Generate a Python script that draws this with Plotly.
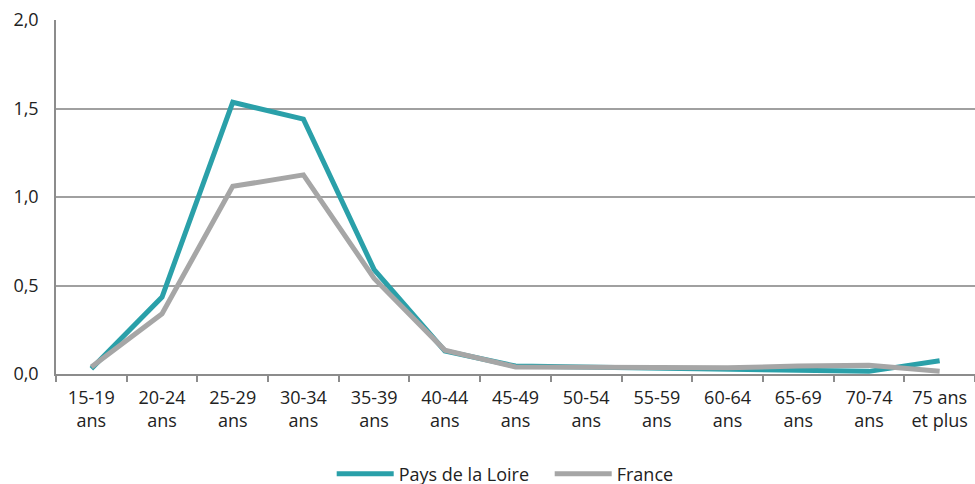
import plotly.graph_objects as go

categories = ["15-19<br>ans", "20-24<br>ans", "25-29<br>ans", "30-34<br>ans", "35-39<br>ans",
              "40-44<br>ans", "45-49<br>ans", "50-54<br>ans", "55-59<br>ans", "60-64<br>ans",
              "65-69<br>ans", "70-74<br>ans", "75 ans<br>et plus"]
pdl_values = [0.03, 0.435, 1.535, 1.44, 0.59, 0.13, 0.045, 0.04, 0.035, 0.03, 0.02, 0.015, 0.075]
france_values = [0.04, 0.34, 1.06, 1.125, 0.54, 0.135, 0.04, 0.04, 0.035, 0.035, 0.045, 0.05, 0.015]
y_ticks = [0, 0.5, 1.0, 1.5, 2.0]

fig = go.Figure()
fig.add_trace(go.Scatter(x=categories, y=pdl_values, mode="lines", name="Pays de la Loire",
                         line=dict(color="#2AA0A9", width=5)))
fig.add_trace(go.Scatter(x=categories, y=france_values, mode="lines", name="France",
                         line=dict(color="#A6A6A6", width=5)))

font = dict(family="Open Sans", size=18, color="#222222")
fig.update_layout(
    width=975, height=493,
    margin=dict(l=56, r=0, t=20, b=112),
    plot_bgcolor="white", paper_bgcolor="white",
    separators=", ",
    font=font,
    showlegend=True,
    legend=dict(orientation="h", x=0.3, xanchor="left", y=-0.2825, yanchor="middle",
                font=font, itemwidth=57, entrywidth=146, tracegroupgap=0),
    xaxis=dict(type="category", showgrid=False, showline=True, linecolor="#8C8C8C", linewidth=2,
               ticks="outside", tickson="boundaries", ticklen=6, tickcolor="#8C8C8C", tickwidth=1.5,
               tickfont=font, range=[-0.5, 12.5], automargin=False, ticklabelstandoff=6),
    yaxis=dict(range=[0, 2.0], tickvals=y_ticks, tickformat=".1f", showgrid=True,
               gridcolor="#A0A0A0", gridwidth=1.5, showline=True, linecolor="#8C8C8C", linewidth=1.5,
               zeroline=False, ticks="", tickfont=font, ticklabelstandoff=12, automargin=False),
)
fig.write_html("out.html", config={"displayModeBar": False},
               post_script="document.body.style.margin='0px';document.body.style.overflow='hidden';")
